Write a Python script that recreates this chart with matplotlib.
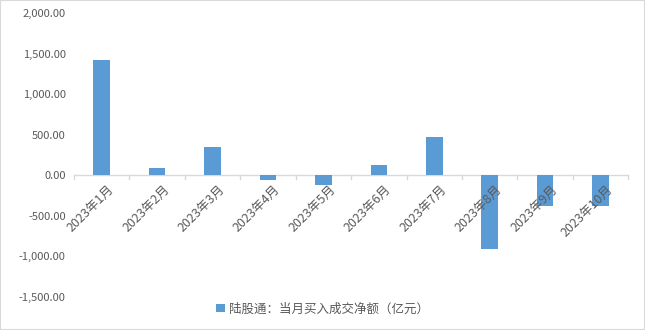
import matplotlib
matplotlib.use("Agg")
import matplotlib.pyplot as plt
from matplotlib.patches import Rectangle

plt.rcParams['font.family'] = ['Noto Sans CJK SC', 'DejaVu Sans']

# data
months = ["2023年1月", "2023年2月", "2023年3月", "2023年4月", "2023年5月",
          "2023年6月", "2023年7月", "2023年8月", "2023年9月", "2023年10月"]
net_buy = [1419, 92, 350, -55, -125, 129, 473, -903, -381, -375]
series_name = "陆股通：当月买入成交净额（亿元）"
y_ticks = [-1500, -1000, -500, 0, 500, 1000, 1500, 2000]

text_color = "#595959"
bar_color = "#5B9BD5"

fig = plt.figure(figsize=(6.45, 3.3), dpi=100)
ax = fig.add_axes([0.1147, 0.10, 0.8593, 0.8606])

x = list(range(len(months)))
ax.bar(x, net_buy, width=0.3, color=bar_color, label=series_name, zorder=2)

ax.set_xlim(-0.5, len(months) - 0.5)
ax.set_ylim(-1500, 2000)
ax.set_yticks(y_ticks)
ax.set_yticklabels([f"{v:,.2f}" for v in y_ticks], fontsize=8, color=text_color)
ax.tick_params(axis='y', length=0, pad=6)

# zero line with category boundary ticks
ax.axhline(0, color="#d9d9d9", lw=1, zorder=1)
for b in range(len(months) + 1):
    ax.plot([b - 0.5, b - 0.5], [0, -50], color="#d9d9d9", lw=1, clip_on=False, zorder=1)

ax.set_xticks([])
for i, m in enumerate(months):
    ax.text(i + 0.1, -90, m, rotation=45, ha='right', va='top',
            rotation_mode='anchor', fontsize=9, color=text_color)

for s in ax.spines.values():
    s.set_visible(False)

leg = fig.legend(loc='lower center', bbox_to_anchor=(0.5, 0.01), frameon=False,
                 fontsize=9, handlelength=0.7, handleheight=0.7, handletextpad=0.3)
for t in leg.get_texts():
    t.set_color(text_color)

fig.patches.append(Rectangle((0, 0), 1, 1, transform=fig.transFigure, fill=False,
                             edgecolor="#d9d9d9", lw=1.5))

fig.savefig("out.png", dpi=100)
